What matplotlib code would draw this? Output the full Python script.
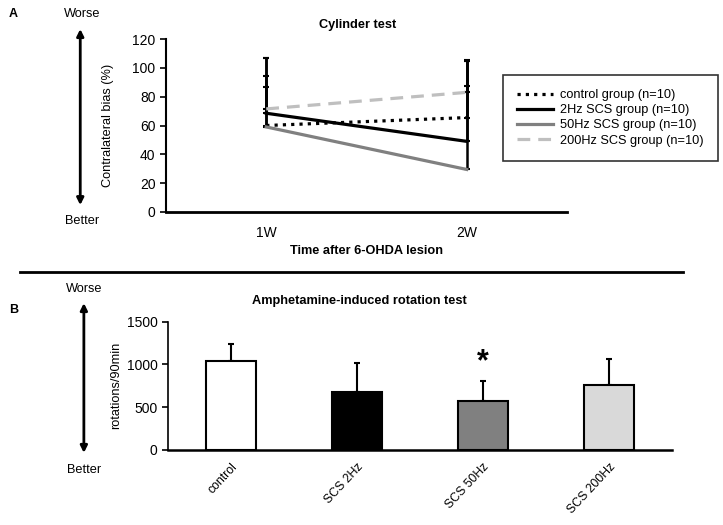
import matplotlib
matplotlib.use("Agg")
import matplotlib.pyplot as plt
import numpy as np

plt.rcParams['font.family'] = ['Liberation Sans', 'DejaVu Sans']

# ---- Panel A data ----
timepoints = ["1W", "2W"]
cyl_series = ["control group (n=10)", "2Hz SCS group (n=10)",
              "50Hz SCS group (n=10)", "200Hz SCS group (n=10)"]
cyl_control = [60, 65.5]
cyl_2hz = [68.5, 49]
cyl_50hz = [59, 29.5]
cyl_200hz = [71.5, 83]
err_control = [34, 22]
err_2hz = [38, 56]
err_50hz = [48, 76]
err_200hz = [15, 22]

# ---- Panel B data ----
rot_groups = ["control", "SCS 2Hz", "SCS 50Hz", "SCS 200Hz"]
rot_means = [1045, 675, 575, 762]
rot_err = [190, 340, 235, 305]
rot_colors = ["white", "black", "#808080", "#d9d9d9"]

TXT = 9.2
TICK = 10

fig = plt.figure(figsize=(7.23, 5.25), dpi=100)

# ---------- Panel A ----------
axA = fig.add_axes([0.2296, 0.5962, 0.5546, 0.3295])
xA = np.arange(len(timepoints)) + 0.5
styles = [
    dict(color="black", ls=(0, (1, 1.6)), lw=2.3),
    dict(color="black", ls="-", lw=2.3),
    dict(color="#808080", ls="-", lw=2.3),
    dict(color="#bfbfbf", ls=(0, (4, 2.5)), lw=2.3),
]
vals = [cyl_control, cyl_2hz, cyl_50hz, cyl_200hz]
errs = [err_control, err_2hz, err_50hz, err_200hz]
for v, e in zip(vals, errs):
    axA.errorbar(xA, v, yerr=[np.zeros(len(e)), e], fmt='none', ecolor='black',
                 elinewidth=1.8, capsize=2, capthick=1.5, zorder=1)
for v, st, lab in zip(vals, styles, cyl_series):
    axA.plot(xA, v, label=lab, zorder=2, **st)

axA.set_xlim(0, 2)
axA.set_ylim(0, 120)
axA.set_yticks(np.arange(0, 121, 20))
axA.set_xticks(xA)
axA.set_xticklabels(timepoints, fontsize=TICK)
axA.tick_params(axis='x', length=0, pad=10)
axA.tick_params(axis='y', labelsize=TICK, length=4, width=1.2, direction='out')
for s in ["top", "right"]:
    axA.spines[s].set_visible(False)
axA.spines["left"].set_linewidth(1.5)
axA.spines["bottom"].set_linewidth(2)
axA.set_ylabel("Contralateral bias (%)", fontsize=TXT)
axA.yaxis.set_label_coords(-0.13, 0.5)
axA.set_xlabel("Time after 6-OHDA lesion", fontsize=TXT, fontweight='bold', labelpad=4)
leg = axA.legend(loc='upper left', bbox_to_anchor=(0.840, 0.792), borderaxespad=0,
                 frameon=True, fancybox=False, edgecolor='black', fontsize=TXT,
                 handlelength=2.8, borderpad=1.1, labelspacing=0.25, handletextpad=0.6)
leg.get_frame().set_linewidth(1.2)
fig.text(0.494, 0.952, "Cylinder test", ha='center', va='center', fontsize=TXT, fontweight='bold')

# side annotations A
fig.text(0.012, 0.985, "A", fontsize=9, fontweight='bold', ha='left', va='top')
fig.text(0.113, 0.973, "Worse", fontsize=TXT, ha='center', va='center')
fig.text(0.113, 0.580, "Better", fontsize=TXT, ha='center', va='center')
fig.add_artist(matplotlib.patches.FancyArrowPatch((0.111, 0.950), (0.111, 0.604),
               transform=fig.transFigure, arrowstyle='<|-|>', mutation_scale=10,
               lw=2, color='black'))

# separator line
fig.add_artist(matplotlib.lines.Line2D([0.028, 0.945], [0.482, 0.482],
               transform=fig.transFigure, color='black', lw=2))

# ---------- Panel B ----------
axB = fig.add_axes([0.2324, 0.1429, 0.697, 0.2444])
xB = np.arange(len(rot_groups))
axB.bar(xB, rot_means, width=0.4, color=rot_colors, edgecolor='black', linewidth=1.5, zorder=2)
axB.errorbar(xB, rot_means, yerr=[np.zeros(len(rot_err)), rot_err], fmt='none',
             ecolor='black', elinewidth=1.5, capsize=2.5, capthick=1.5, zorder=1)
axB.text(xB[2], rot_means[2] + rot_err[2] + 40, "*", ha='center', va='bottom',
         fontsize=22, fontweight='bold')
axB.set_xlim(-0.5, 3.5)
axB.set_ylim(0, 1500)
axB.set_yticks([0, 500, 1000, 1500])
axB.set_xticks(xB)
axB.set_xticklabels(rot_groups, rotation=47, ha='right', rotation_mode='anchor', fontsize=8.8)
axB.tick_params(axis='x', length=0, pad=8)
axB.tick_params(axis='y', labelsize=TICK, length=4, width=1.2, direction='out')
for s in ["top", "right"]:
    axB.spines[s].set_visible(False)
axB.spines["left"].set_linewidth(1.2)
axB.spines["bottom"].set_linewidth(1.8)
axB.set_ylabel("rotations/90min", fontsize=TXT)
axB.yaxis.set_label_coords(-0.092, 0.5)
fig.text(0.497, 0.426, "Amphetamine-induced rotation test", ha='center', va='center',
         fontsize=TXT, fontweight='bold')

fig.text(0.012, 0.41, "B", fontsize=9, fontweight='bold', ha='left', va='center')
fig.text(0.116, 0.450, "Worse", fontsize=TXT, ha='center', va='center')
fig.text(0.116, 0.105, "Better", fontsize=TXT, ha='center', va='center')
fig.add_artist(matplotlib.patches.FancyArrowPatch((0.116, 0.428), (0.116, 0.132),
               transform=fig.transFigure, arrowstyle='<|-|>', mutation_scale=10,
               lw=2, color='black'))

fig.savefig("out.png", dpi=100)
